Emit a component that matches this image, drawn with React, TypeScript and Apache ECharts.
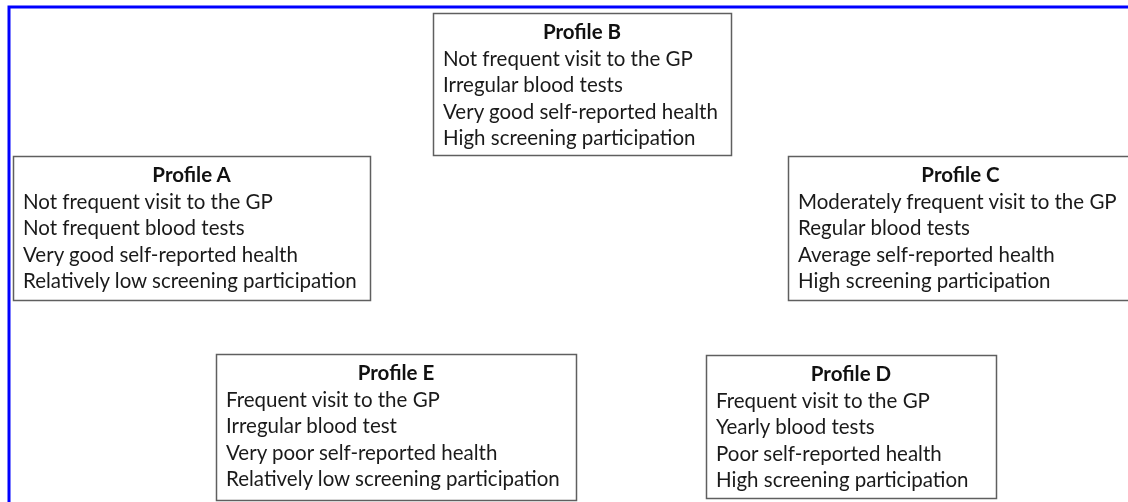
import React, { useEffect, useRef } from "react";
import * as echarts from "echarts";

const profileTitles = ["Profile B", "Profile A", "Profile C", "Profile E", "Profile D"];
const profileLines = [
  ["Not frequent visit to the GP", "Irregular blood tests", "Very good self-reported health", "High screening participation"],
  ["Not frequent visit to the GP", "Not frequent blood tests", "Very good self-reported health", "Relatively low screening participation"],
  ["Moderately frequent visit to the GP", "Regular blood tests", "Average self-reported health", "High screening participation"],
  ["Frequent visit to the GP", "Irregular blood test", "Very poor self-reported health", "Relatively low screening participation"],
  ["Frequent visit to the GP", "Yearly blood tests", "Poor self-reported health", "High screening participation"],
];

// layout: [x, y, width, height]
const boxLayout = [
  [433, 13, 298, 142],
  [13, 156, 357, 144],
  [788, 156, 345, 144],
  [216, 354, 360, 146],
  [706, 355, 290, 143],
];

const FONT = "Lato";
const SIZE = 20.5;
const PITCH = 26.5;
const TITLE_OFFSET = 18;

export default function App() {
  const ref = useRef<HTMLDivElement>(null);
  useEffect(() => {
    if (!ref.current) return;
    const chart = echarts.init(ref.current, null, { renderer: "svg" });
    const elements: any[] = [];
    elements.push({
      type: "rect",
      shape: { x: 0, y: 0, width: 1128, height: 502 },
      style: { fill: "#ffffff" },
      z: 0,
    });
    elements.push({
      type: "polyline",
      shape: { points: [[9, 504], [9, 7], [1130, 7]] },
      style: { stroke: "#0000ff", lineWidth: 3, fill: null },
      z: 1,
    });
    profileTitles.forEach((title, i) => {
      const [x, y, w, h] = boxLayout[i];
      elements.push({
        type: "rect",
        shape: { x: x + 0.5, y: y + 0.5, width: w, height: h },
        style: { fill: "#ffffff", stroke: "#5f5f5f", lineWidth: 1.5 },
        z: 2,
      });
      elements.push({
        type: "text",
        x: x + w / 2,
        y: y + TITLE_OFFSET,
        style: {
          text: title,
          fill: "#111111",
          font: `bold ${SIZE}px ${FONT}`,
          align: "center",
          verticalAlign: "middle",
        },
        z: 3,
      });
      profileLines[i].forEach((line, j) => {
        elements.push({
          type: "text",
          x: x + 10,
          y: y + TITLE_OFFSET + PITCH * (j + 1),
          style: {
            text: line,
            fill: "#1a1a1a",
            font: `${SIZE}px ${FONT}`,
            align: "left",
            verticalAlign: "middle",
          },
          z: 3,
        });
      });
    });
    chart.setOption({ animation: false, graphic: { elements } });
    return () => chart.dispose();
  }, []);
  return (
    <div
      ref={ref}
      style={{ position: "fixed", left: 0, top: 0, width: 1128, height: 502 }}
    />
  );
}
